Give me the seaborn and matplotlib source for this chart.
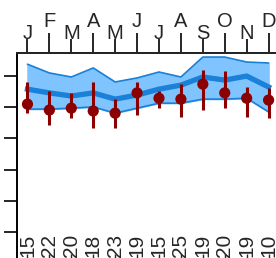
import numpy as np
import seaborn as sns
import matplotlib.pyplot as plt
from matplotlib.ticker import FixedLocator, FixedFormatter

# monthly values
months = ['J', 'F', 'M', 'A', 'M', 'J', 'J', 'A', 'S', 'O', 'N', 'D']
counts = ['15', '22', '20', '18', '23', '19', '15', '25', '19', '20', '19', '10']
band_upper = [53.8, 51.0, 49.7, 52.6, 48.1, 49.4, 51.3, 49.7, 56.1, 56.1, 54.5, 54.2]
band_lower = [39.4, 39.4, 39.7, 40.1, 38.1, 39.7, 41.3, 41.3, 42.6, 42.6, 42.9, 38.5]
band_mid = [45.8, 44.6, 43.6, 44.6, 42.6, 43.9, 45.8, 47.1, 49.7, 48.7, 50.0, 46.5]
obs_mean = [41.0, 39.1, 39.7, 38.8, 38.1, 44.6, 42.9, 42.6, 47.4, 44.6, 42.9, 42.3]
obs_low = [38.1, 34.3, 36.5, 33.3, 33.3, 37.5, 39.7, 36.9, 39.1, 39.7, 36.9, 36.5]
obs_high = [48.1, 45.2, 44.6, 48.1, 42.6, 48.1, 45.2, 47.4, 51.9, 51.6, 46.5, 46.2]
y_ticks = [0, 10, 20, 30, 40, 50]

sns.set_style('ticks')
plt.rcParams['font.family'] = ['Liberation Sans', 'DejaVu Sans']

x = np.arange(len(months))

fig = plt.figure(figsize=(2.76, 2.58), dpi=100)
ax = fig.add_axes([16.5 / 276, -6 / 258, 274 / 276, 211 / 258])

# model band
ax.fill_between(x, band_lower, band_upper, color='#80c4ff', zorder=1)
sns.lineplot(x=x, y=band_upper, ax=ax, color='#1a80d8', lw=1.2, zorder=2)
sns.lineplot(x=x, y=band_lower, ax=ax, color='#1a80d8', lw=1.2, zorder=2)
sns.lineplot(x=x, y=band_mid, ax=ax, color='#1a80d8', lw=3.8, zorder=3,
             solid_capstyle='projecting')

# observations
ax.vlines(x, obs_low, obs_high, color='#8b0000', lw=2.2, zorder=4)
sns.scatterplot(x=x, y=obs_mean, ax=ax, color='#8b0000', s=65,
                edgecolor='none', zorder=5)

ax.set_xlim(-0.5, 12.0)
ax.set_ylim(-10.3, 57.4)
ax.set_yticks(y_ticks)
ax.set_yticklabels([])
ax.tick_params(axis='y', direction='out', length=9.4, width=1.4)

# counts along the bottom, drawn inside
ax.set_xticks(x)
ax.set_xticklabels(counts, rotation=90, fontsize=15)
ax.tick_params(axis='x', direction='in', length=7, width=1.0, pad=-5)
for lab in ax.get_xticklabels():
    lab.set_va('bottom')

for s in ['left', 'top', 'bottom']:
    ax.spines[s].set_linewidth(1.4)
    ax.spines[s].set_color('black')
ax.spines['right'].set_visible(False)

# month letters on top, staggered
ax2 = ax.twiny()
ax2.set_xlim(ax.get_xlim())
ax2.xaxis.set_major_locator(FixedLocator(x[0::2]))
ax2.xaxis.set_major_formatter(FixedFormatter(months[0::2]))
ax2.xaxis.set_minor_locator(FixedLocator(x[1::2]))
ax2.xaxis.set_minor_formatter(FixedFormatter(months[1::2]))
ax2.tick_params(axis='x', which='major', direction='out', length=10, width=1.4,
                pad=-3, labelsize=14.5)
ax2.tick_params(axis='x', which='minor', direction='out', length=14.4, width=1.4,
                pad=1.5, labelsize=14.5)
for s in ['left', 'right', 'bottom']:
    ax2.spines[s].set_visible(False)
ax2.spines['top'].set_linewidth(1.4)

fig.savefig('out.png', dpi=100)
